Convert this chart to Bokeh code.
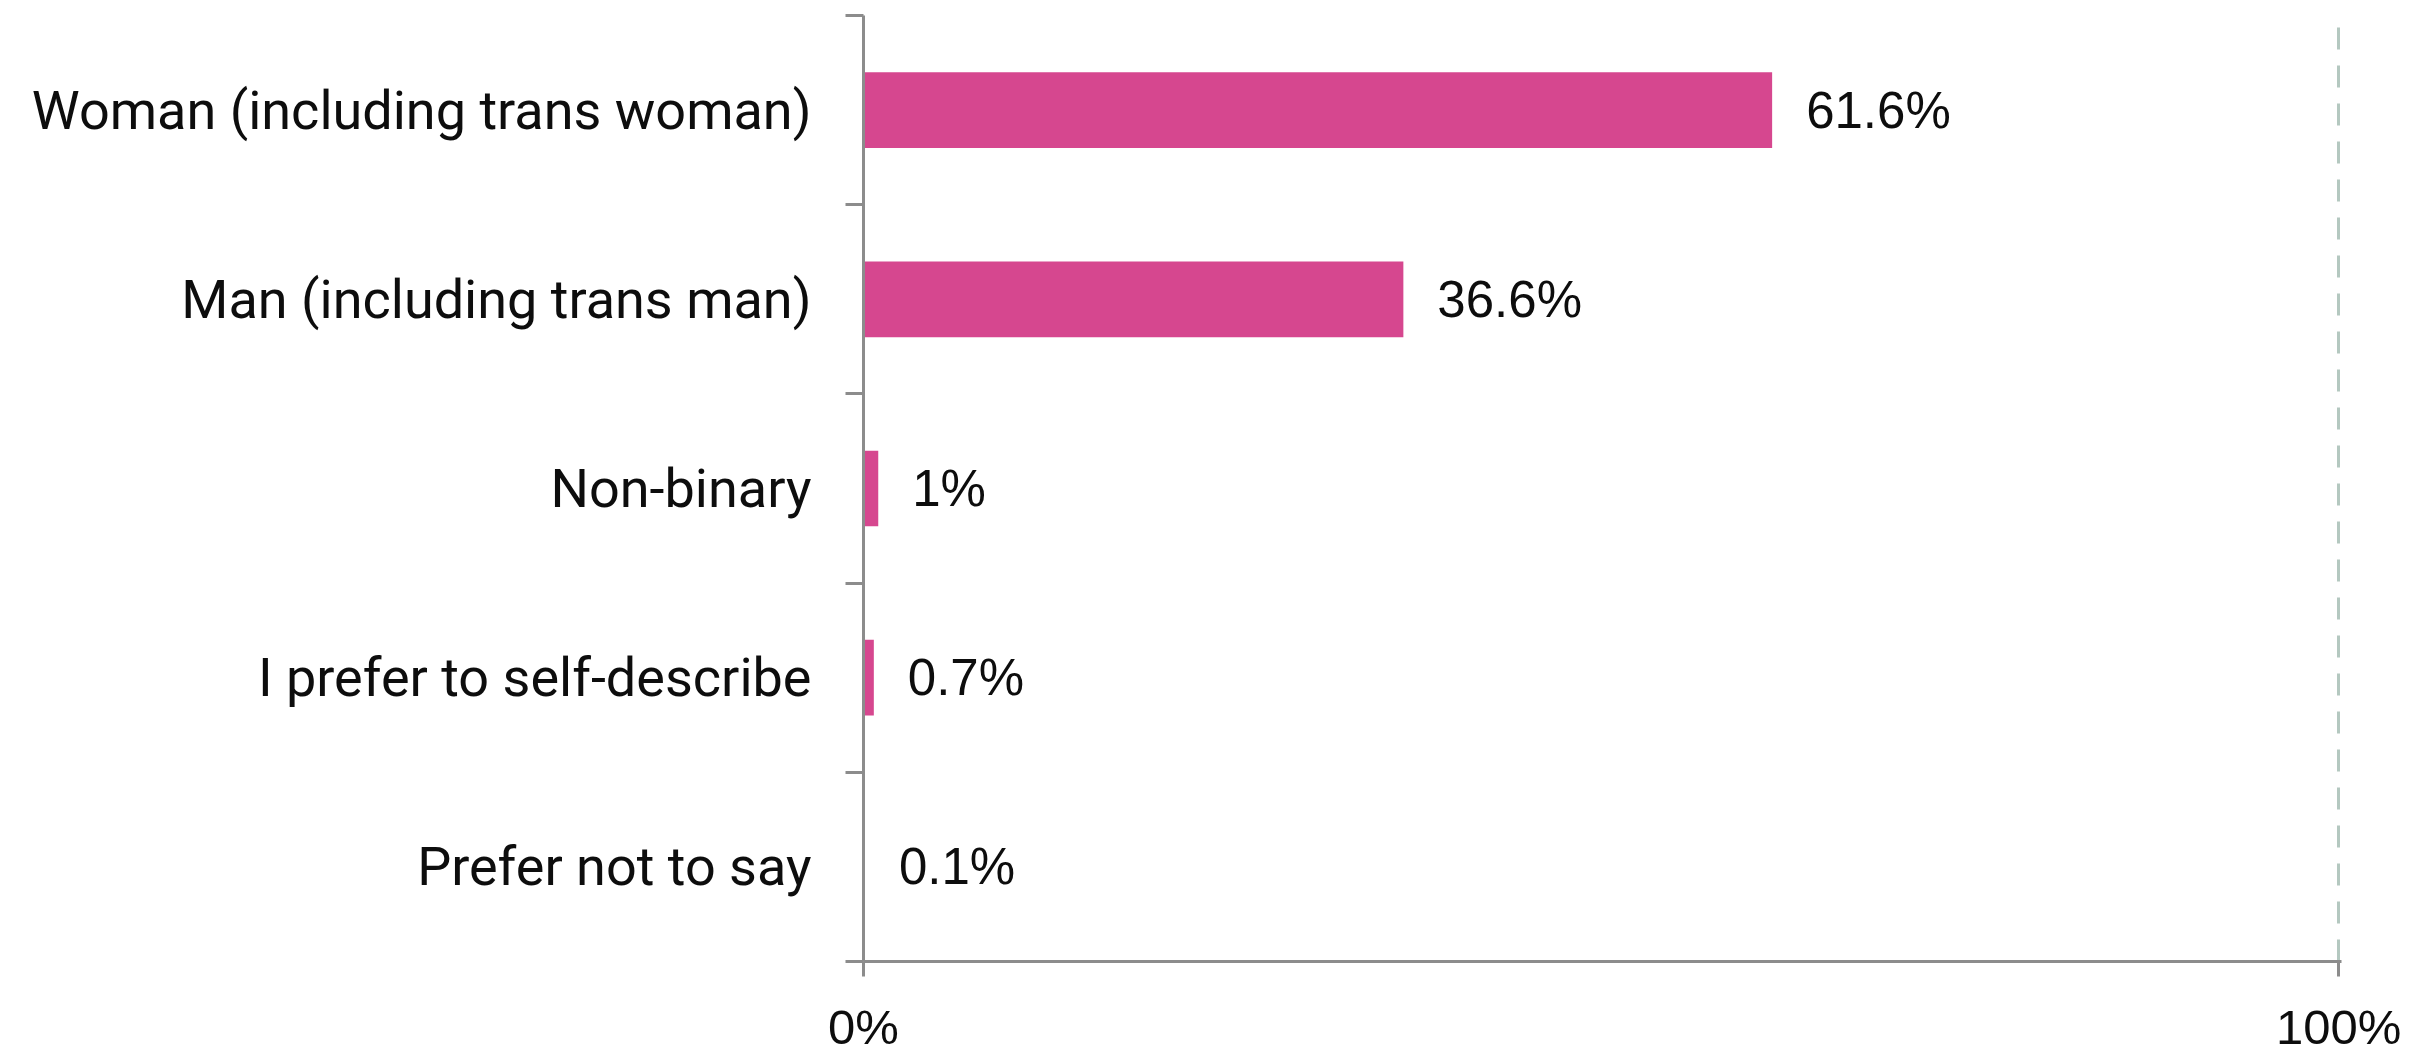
from bokeh.plotting import figure
from bokeh.models import Range1d, FixedTicker, ColumnDataSource
from bokeh.core.properties import value
from bokeh.embed import file_html
from bokeh.resources import INLINE

categories = ["Woman (including trans woman)", "Man (including trans man)", "Non-binary",
              "I prefer to self-describe", "Prefer not to say"]
values = [61.6, 36.6, 1.0, 0.7, 0.1]
x_ticks = [0, 100]
x_tick_labels = ["0%", "100%"]

n = len(categories)
centers = [2 * (n - i) - 1 for i in range(n)]
bounds = [2 * k for k in range(n + 1)]
labels = [f"{v:g}%" for v in values]

CAT_FONT = "Roboto"
NUM_FONT = "Liberation Sans"
AXIS_COLOR = "#8c8c8c"
TEXT_COLOR = "#0d0d0d"

p = figure(frame_width=1478, frame_height=946, x_range=Range1d(0, 100.2), y_range=Range1d(0, 2 * n),
           output_backend="svg", toolbar_location=None,
           min_border_left=863, min_border_right=67, min_border_top=15, min_border_bottom=0)
p.outline_line_color = None
p.background_fill_color = "white"
p.border_fill_color = "white"

src = ColumnDataSource(dict(y=centers, v=values, lab=labels, cat=categories))
p.hbar(y="y", right="v", left=0, height=0.8, source=src, fill_color="#d6478f", line_color=None)
p.text(x="v", y="y", text="lab", source=src, x_offset=34, text_baseline="middle",
       text_align="left", text_font=value(NUM_FONT), text_font_size="51px", text_color=TEXT_COLOR)

# axes
xa = p.xaxis[0]
xa.ticker = FixedTicker(ticks=x_ticks)
xa.major_label_overrides = {t: l for t, l in zip(x_ticks, x_tick_labels)}
xa.axis_line_color = AXIS_COLOR
xa.axis_line_width = 3
xa.major_tick_line_color = AXIS_COLOR
xa.major_tick_line_width = 3
xa.major_tick_out = 15
xa.major_tick_in = 0
xa.minor_tick_line_color = None
xa.major_label_text_font = NUM_FONT
xa.major_label_text_font_size = "49px"
xa.major_label_text_color = TEXT_COLOR
xa.major_label_standoff = 23

ya = p.yaxis[0]
ya.ticker = FixedTicker(ticks=centers, minor_ticks=bounds)
ya.major_label_overrides = {c: t for c, t in zip(centers, categories)}
ya.axis_line_color = AXIS_COLOR
ya.axis_line_width = 3
ya.major_tick_line_color = None
ya.major_tick_out = 0
ya.major_tick_in = 0
ya.minor_tick_line_color = AXIS_COLOR
ya.minor_tick_line_width = 3
ya.minor_tick_out = 18
ya.minor_tick_in = 0
ya.major_label_text_font = CAT_FONT
ya.major_label_text_font_size = "54px"
ya.major_label_text_color = TEXT_COLOR
ya.major_label_standoff = 34

p.ygrid.grid_line_color = None
p.xgrid.ticker = FixedTicker(ticks=[100])
p.xgrid.grid_line_color = "#b4c8c0"
p.xgrid.grid_line_width = 3
p.xgrid.grid_line_dash = "22 16"

open("out.html", "w").write(file_html(p, INLINE))
